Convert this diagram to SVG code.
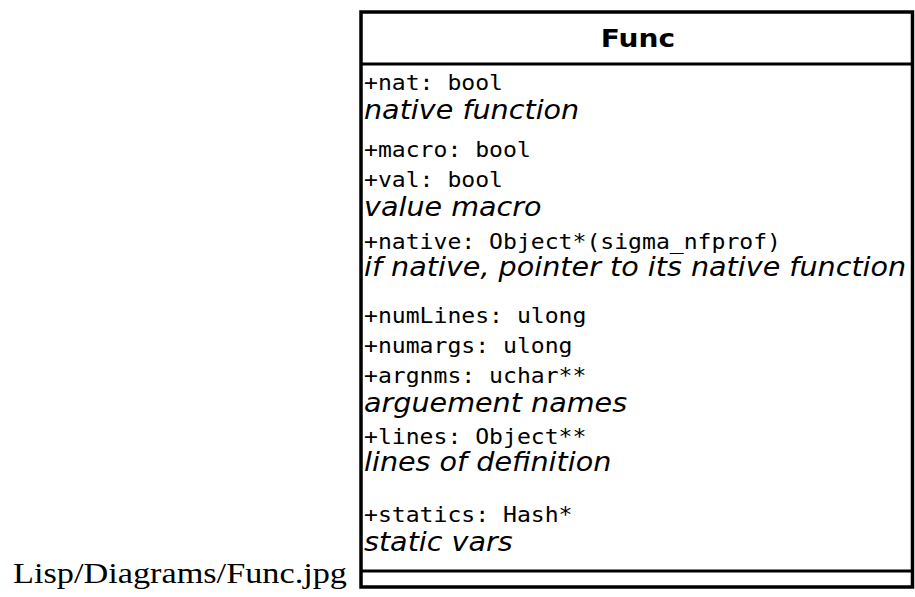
<svg xmlns="http://www.w3.org/2000/svg" width="915" height="597" viewBox="0 0 915 597">
<style>
.box{fill:#fff;stroke:#000;stroke-width:3.5}
.sep{stroke:#000;stroke-width:3}
.mono{font-family:"DejaVu Sans Mono",monospace;font-size:21px;fill:#000}
.it{font-family:"DejaVu Sans",sans-serif;font-style:italic;font-size:26px;fill:#000}
.title{font-family:"DejaVu Sans",sans-serif;font-weight:bold;font-size:25.5px;fill:#000;text-anchor:middle}
.cap{font-family:"Liberation Serif","Times New Roman",serif;font-size:30px;fill:#000}
</style>
<rect width="915" height="597" fill="#fff"/>
<g id="Func">
<rect class="box" x="361" y="12" width="551.5" height="575"/>
<line class="sep" x1="361" y1="64" x2="912.5" y2="64"/>
<line class="sep" x1="361" y1="571" x2="912.5" y2="571"/>
<g transform="translate(364,0) scale(1.1,1)">
<text class="title" x="249" y="47">Func</text>
<text class="mono" x="0" y="90">+nat: bool</text>
<text class="it" x="0" y="119">native function</text>
<text class="mono" x="0" y="157">+macro: bool</text>
<text class="mono" x="0" y="187">+val: bool</text>
<text class="it" x="0" y="216">value macro</text>
<text class="mono" x="0" y="249">+native: Object*(sigma_nfprof)</text>
<text class="it" x="0" y="276">if native, pointer to its native function</text>
<text class="mono" x="0" y="323">+numLines: ulong</text>
<text class="mono" x="0" y="353">+numargs: ulong</text>
<text class="mono" x="0" y="383">+argnms: uchar**</text>
<text class="it" x="0" y="412">arguement names</text>
<text class="mono" x="0" y="444">+lines: Object**</text>
<text class="it" x="0" y="471">lines of definition</text>
<text class="mono" x="0" y="522">+statics: Hash*</text>
<text class="it" x="0" y="551">static vars</text>
</g>
</g>
<text class="cap" x="13" y="583" textLength="334" lengthAdjust="spacingAndGlyphs">Lisp/Diagrams/Func.jpg</text>
</svg>
